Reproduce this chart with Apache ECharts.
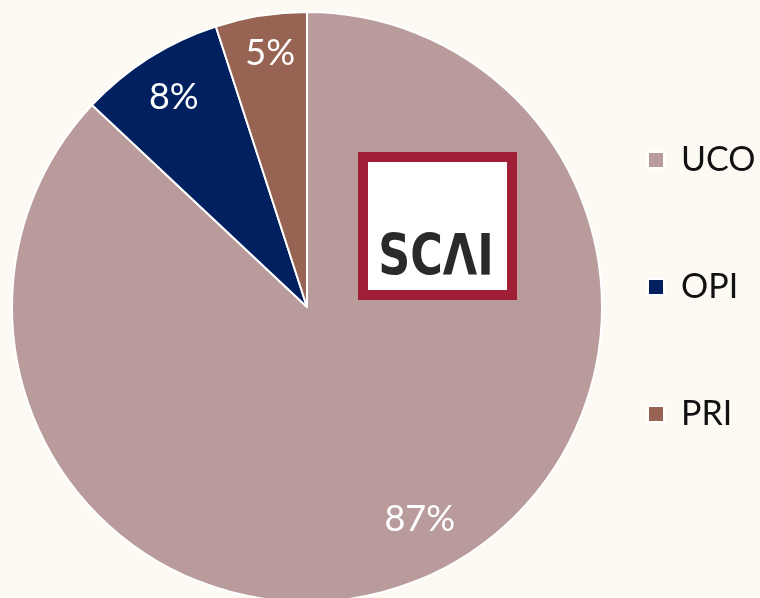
<!DOCTYPE html>
<html>
<head>
<meta charset="utf-8">
<script src="https://cdn.jsdelivr.net/npm/echarts@6/dist/echarts.min.js"></script>
<style>
  html, body { margin: 0; padding: 0; background: #FCFAF3; }
  #chart { width: 760px; height: 598px; }
</style>
</head>
<body>
<div id="chart"></div>
<script>
// Share of each category
const categories = ['UCO', 'OPI', 'PRI'];
const shares = [87, 8, 5];
const colors = ['#B99B9C', '#002060', '#976453'];

const pieData = categories.map((name, i) => ({
  name: name,
  value: shares[i],
  itemStyle: { color: colors[i] }
}));

const chart = echarts.init(document.getElementById('chart'), null, { renderer: 'canvas' });

const center = [307, 307];
const outerR = 295;

// small nudges for the percentage labels
const labelNudge = [[14, -16], [0, 0], [2, -8]];

chart.setOption({
  backgroundColor: '#FCFAF3',
  animation: false,
  legend: {
    orient: 'vertical',
    left: 647,
    top: 143,
    padding: 0,
    itemWidth: 16,
    itemHeight: 16,
    itemGap: 93,
    icon: 'rect',
    selectedMode: false,
    textStyle: {
      fontFamily: 'Lato',
      fontSize: 34,
      lineHeight: 34,
      color: '#111111',
      padding: [0, 0, 0, 12]
    },
    data: categories.map((name, i) => ({
      name: name,
      itemStyle: { color: colors[i], borderColor: '#ffffff', borderWidth: 2 }
    }))
  },
  series: [
    {
      name: 'share',
      type: 'pie',
      center: center,
      radius: [0, outerR],
      startAngle: 90,
      clockwise: true,
      silent: true,
      label: { show: false },
      labelLine: { show: false },
      itemStyle: { borderColor: '#ffffff', borderWidth: 2 },
      emphasis: { disabled: true },
      data: pieData
    },
    {
      // transparent ring that carries the percentage labels
      name: 'labels',
      type: 'pie',
      center: center,
      radius: [196, outerR],
      startAngle: 90,
      clockwise: true,
      silent: true,
      itemStyle: { color: 'rgba(0,0,0,0)', borderWidth: 0 },
      emphasis: { disabled: true },
      labelLine: { show: false },
      labelLayout: function (params) {
        const n = labelNudge[params.dataIndex] || [0, 0];
        return { dx: n[0], dy: n[1] };
      },
      label: {
        show: true,
        position: 'inside',
        formatter: '{c}%',
        fontFamily: 'Lato',
        fontSize: 36,
        color: '#ffffff'
      },
      data: categories.map((name, i) => ({ name: name, value: shares[i] }))
    }
  ],
  graphic: [
    {
      type: 'group',
      left: 358,
      top: 152,
      z: 100,
      silent: true,
      children: [
        {
          type: 'rect',
          z: 100,
          shape: { x: 5, y: 5, width: 149, height: 138 },
          style: { fill: '#ffffff', stroke: '#A01E36', lineWidth: 10 }
        },
        {
          type: 'text',
          z: 101,
          x: 78,
          y: 108,
          scaleX: 0.78,
          style: {
            text: 'SCΛI',
            fontFamily: 'DejaVu Sans',
            fontWeight: 'bold',
            fontSize: 57,
            fill: '#2A2A2A',
            align: 'center',
            verticalAlign: 'middle'
          }
        }
      ]
    }
  ]
});
</script>
</body>
</html>
